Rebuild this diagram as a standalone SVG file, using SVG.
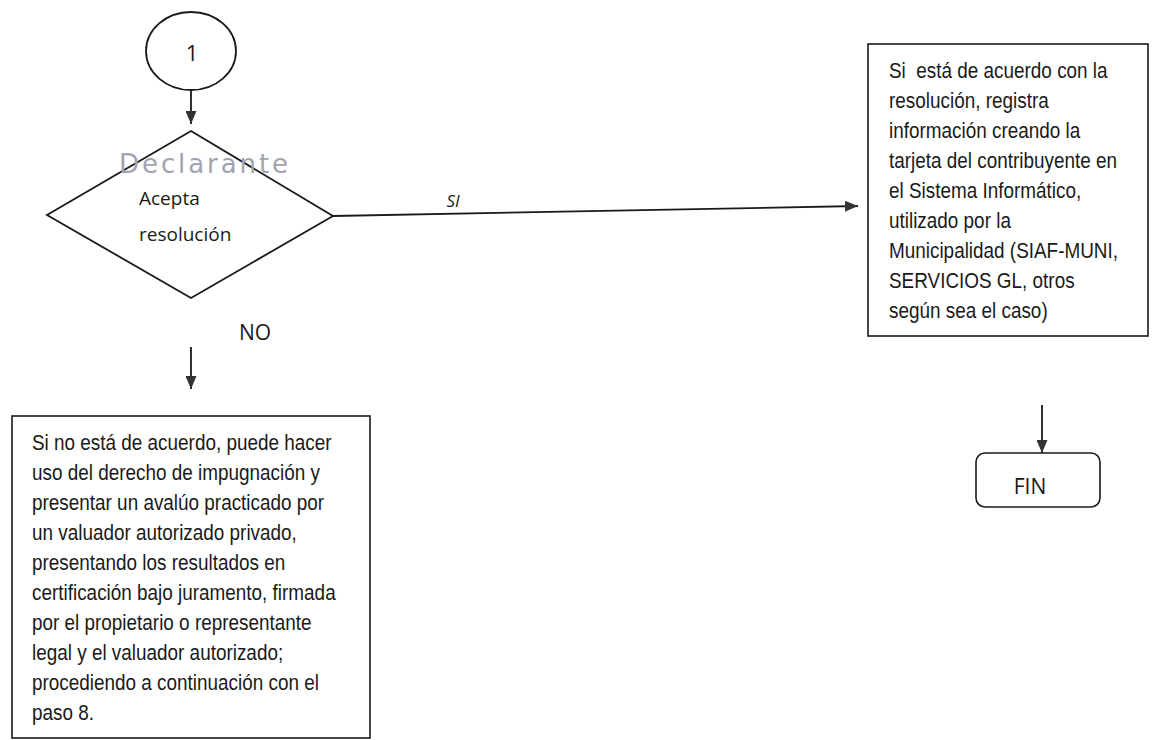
<svg xmlns="http://www.w3.org/2000/svg" width="1152" height="740" viewBox="0 0 1152 740">
<style>
.shape{fill:#fff;stroke:#1a1a1a;stroke-width:1.8}
.box{fill:#fff;stroke:#1a1a1a;stroke-width:1.6}
.lbl{font-family:"Open Sans","Liberation Sans",sans-serif;fill:#1a1a1a}
.body{font-family:"Liberation Sans",Arial,sans-serif;font-size:22px;fill:#1a1a1a}
.conn{stroke:#1a1a1a;stroke-width:1.8;fill:none;marker-end:url(#ah)}
.hand{font-family:"DejaVu Sans",sans-serif;font-size:27px;fill:#a2a2b0;letter-spacing:3px}
</style>
<defs>
<marker id="ah" markerUnits="userSpaceOnUse" markerWidth="13" markerHeight="11" refX="13" refY="5.5" orient="auto">
<path d="M0,0 L13,5.5 L0,11 z" fill="#333"/>
</marker>
</defs>
<rect width="1152" height="740" fill="#fff"/>
<g id="connectors">
<line class="conn" x1="191" y1="90" x2="191" y2="124"/>
<line class="conn" x1="333" y1="216" x2="858" y2="206"/>
<line class="conn" x1="191" y1="347" x2="191" y2="389"/>
<line class="conn" x1="1042" y1="405" x2="1042" y2="453"/>
<text class="lbl" x="453" y="207" font-size="17" font-style="italic" text-anchor="middle">SI</text>
<text class="lbl" x="255" y="340" font-size="21" text-anchor="middle">NO</text>
</g>
<g id="start">
<ellipse class="shape" cx="191" cy="51" rx="45" ry="39"/>
<text class="lbl" x="192" y="61" font-size="22" text-anchor="middle">1</text>
</g>
<g id="decision">
<polygon class="shape" points="191,131 333,216 191,298 47,215"/>
<text class="hand" x="119" y="173" textLength="172" lengthAdjust="spacingAndGlyphs">Declarante</text>
<text class="lbl" x="139" y="205" font-size="19">Acepta</text>
<text class="lbl" x="139" y="241" font-size="19">resolución</text>
</g>
<g id="si-box">
<rect class="box" x="868" y="44" width="280" height="292"/>
<g transform="translate(889,0) scale(0.86,1)">
<text class="body">
<tspan x="0" y="78">Si&#160; está de acuerdo con la</tspan>
<tspan x="0" y="108">resolución, registra</tspan>
<tspan x="0" y="138">información creando la</tspan>
<tspan x="0" y="168">tarjeta del contribuyente en</tspan>
<tspan x="0" y="198">el Sistema Informático,</tspan>
<tspan x="0" y="228">utilizado por la</tspan>
<tspan x="0" y="258">Municipalidad (SIAF-MUNI,</tspan>
<tspan x="0" y="288">SERVICIOS GL, otros</tspan>
<tspan x="0" y="318">según sea el caso)</tspan>
</text>
</g>
</g>
<g id="no-box">
<rect class="box" x="12" y="416" width="358" height="322"/>
<g transform="translate(32,0) scale(0.86,1)">
<text class="body">
<tspan x="0" y="450">Si no está de acuerdo, puede hacer</tspan>
<tspan x="0" y="480">uso del derecho de impugnación y</tspan>
<tspan x="0" y="510">presentar un avalúo practicado por</tspan>
<tspan x="0" y="540">un valuador autorizado privado,</tspan>
<tspan x="0" y="570">presentando los resultados en</tspan>
<tspan x="0" y="600">certificación bajo juramento, firmada</tspan>
<tspan x="0" y="630">por el propietario o representante</tspan>
<tspan x="0" y="660">legal y el valuador autorizado;</tspan>
<tspan x="0" y="690">procediendo a continuación con el</tspan>
<tspan x="0" y="720">paso 8.</tspan>
</text>
</g>
</g>
<g id="fin">
<rect class="box" x="976" y="453" width="124" height="54" rx="9" ry="9"/>
<text class="lbl" x="1030" y="494" font-size="21" text-anchor="middle">FIN</text>
</g>
</svg>
